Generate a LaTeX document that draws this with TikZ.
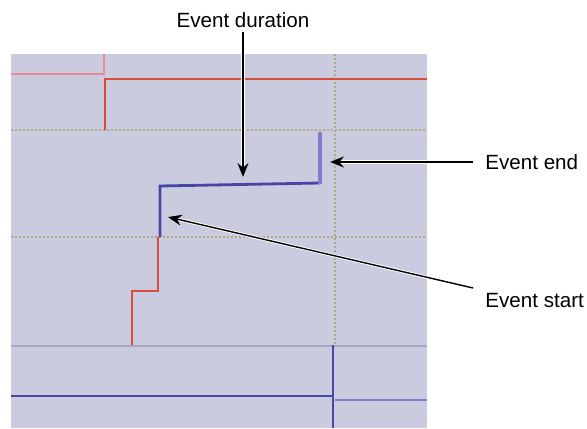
\documentclass[tikz,border=0pt]{standalone}
\usepackage{fontspec}
\setmainfont{Liberation Sans}
\usetikzlibrary{arrows.meta,positioning}
\definecolor{panel}{HTML}{CACBDF}
\definecolor{gridol}{HTML}{ACAC80}
\definecolor{gridbl}{HTML}{A4A6C2}
\definecolor{sigred}{HTML}{DC4A3C}
\definecolor{sigpink}{HTML}{E88A8E}
\definecolor{sigblue}{HTML}{4646A4}
\definecolor{sigpale}{HTML}{7E7ECA}

\begin{document}
\begin{tikzpicture}[x=0.5pt,y=-0.5pt,
  font=\fontsize{10.3}{12}\selectfont,
  gridline/.style={gridol,line width=0.7pt,dash pattern=on 1pt off 1pt},
  sig/.style={line width=1.4pt,line join=miter},
  lbl/.style={inner sep=6pt},
  callout/.style={-{Stealth[length=7pt,width=5.6pt]},line width=0.7pt,
    preaction={draw=white,line width=1.6pt}}
]
\useasboundingbox (0,0) rectangle (587,428);

% panel and grid
\fill[panel] (11,54) rectangle (427,428);
\draw[gridline] (11,130) -- (427,130);
\draw[gridline] (11,237) -- (427,237);
\draw[gridline] (335,54) -- (335,345);
\draw[gridbl,line width=0.8pt] (11,346) -- (427,346);

% top traces
\draw[sig,sigpink] (11,74) -- (104,74) -- (104,54);
\draw[sig,sigred] (105,130) -- (105,79) -- (427,79);

% the event
\draw[sig,sigred] (132,345) -- (132,291) -- (158,291) -- (158,237);
\draw[sig,sigblue] (160,237) -- (160,186) -- (320,183);
\draw[sig,sigpale,line width=1.8pt] (320,184) -- (320,132);

% bottom traces
\draw[sig,sigblue] (11,396) -- (333,396);
\draw[sig,sigblue] (333,345) -- (333,428);
\draw[sig,sigpale] (335,400) -- (427,400);

% labels
\node[inner sep=2pt,anchor=south] (dur) at (243,32) {Event duration};
\node[lbl,anchor=west] (evend) at (473,162) {Event end};
\node[lbl,anchor=west] (evstart) at (473,301) {Event start};

\coordinate (durtip) at (243,177);
\coordinate (endtip) at (330,162);
\coordinate (starttip) at (168,217);

\draw[callout] (dur.south) -- (durtip);
\draw[callout] (evend.west) -- (endtip);
\draw[callout] ([yshift=6.5pt]evstart.west) -- (starttip);
\end{tikzpicture}
\end{document}
